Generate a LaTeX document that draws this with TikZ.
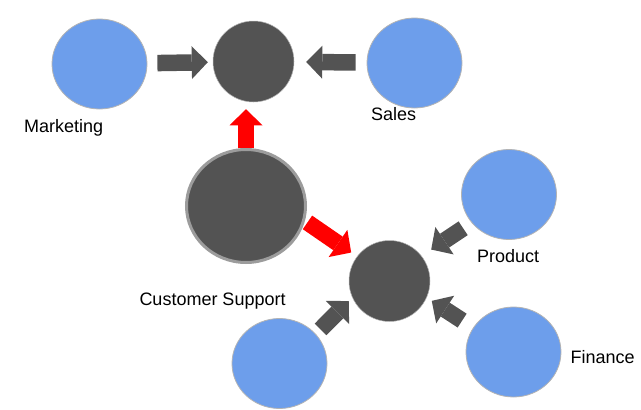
\documentclass[tikz,border=0pt]{standalone}
\usepackage{fontspec}
\setmainfont{Liberation Sans}
\usetikzlibrary{arrows.meta,shapes.geometric}
\definecolor{teamblue}{HTML}{6D9EEB}
\definecolor{hubgray}{HTML}{535353}
\definecolor{rimgray}{HTML}{B4B4B4}
\definecolor{ringgray}{HTML}{9C9C9C}

\begin{document}
\begin{tikzpicture}[x=1pt,y=-1pt,
  team/.style={ellipse,fill=teamblue,draw=rimgray,line width=0.8pt,
    minimum width=95pt,minimum height=90pt,inner sep=0pt},
  hub/.style={circle,fill=hubgray,draw=rimgray,line width=0.5pt,
    minimum size=81pt,inner sep=0pt},
  lbl/.style={anchor=base west,inner sep=0pt,font=\fontsize{18}{21}\selectfont},
  blk/.style={line width=16.5pt,
    -{Triangle[width=33pt,length=16pt,line width=0pt]}}]
  \useasboundingbox (0,0) rectangle (641,410);

  \node[team] (mkt) at (99.5,64) {};
  \node[team] (sales) at (414.5,63) {};
  \node[team] (prod) at (509,194.5) {};
  \node[team] (fin) at (513.5,352) {};
  \node[team] (bl) at (279.5,363.5) {};
  \node[hub] (top) at (253.5,61.5) {};
  \node[hub] (bot) at (389.5,281) {};
  \node[ellipse,fill=hubgray,draw=ringgray,line width=3pt,minimum width=119pt,
    minimum height=113pt,inner sep=0pt] (cs) at (246,206) {};

  \node[lbl] (mkt-l) at (24,132) {Marketing};
  \node[lbl] (sales-l) at (371,120) {Sales};
  \node[lbl] (prod-l) at (477,262) {Product};
  \node[lbl] (fin-l) at (570.5,363.3) {Finance};
  \node[lbl] (cs-l) at (139.3,305.7) {Customer Support};

  \path[blk,hubgray]
	(mkt) edge[shorten <=10pt,shorten >=5pt] (top)
	(sales) edge[shorten <=11pt,shorten >=12pt] (top)
	(bl.39) edge[shorten <=6.5pt,shorten >=5pt] (bot.204)
	(prod.217) edge[shorten <=10pt,shorten >=11.5pt] (bot.38)
	(fin.149) edge[shorten <=13pt,shorten >=6pt] (bot.336);
  \path[blk,red]
	(cs.north) edge[shorten >=7pt] (cs.north |- top.south)
	(cs.-14) edge[shorten <=3pt,shorten >=7pt] (bot.143);
\end{tikzpicture}
\end{document}
